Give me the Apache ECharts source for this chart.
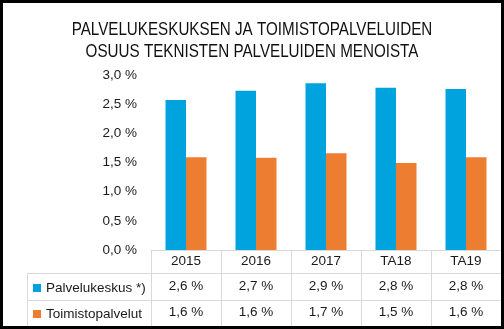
<!DOCTYPE html>
<html>
<head>
<meta charset="utf-8">
<script src="https://cdn.jsdelivr.net/npm/echarts@6/dist/echarts.min.js"></script>
<style>
html,body{margin:0;padding:0;background:#fff;}
#c{width:504px;height:329px;}
</style>
</head>
<body>
<div id="c"></div>
<script>
const titleLines = ['PALVELUKESKUKSEN JA TOIMISTOPALVELUIDEN', 'OSUUS TEKNISTEN PALVELUIDEN MENOISTA'];
const categories = ['2015', '2016', '2017', 'TA18', 'TA19'];
const seriesNames = ['Palvelukeskus *)', 'Toimistopalvelut'];
const palvelukeskus = [2.57, 2.73, 2.86, 2.78, 2.76];
const toimistopalvelut = [1.59, 1.58, 1.66, 1.49, 1.59];
const yTicks = [0, 0.5, 1.0, 1.5, 2.0, 2.5, 3.0];

const fmt = v => v.toFixed(1).replace('.', ',') + ' %';
const font = 'Liberation Sans, Arial, sans-serif';
const txt = '#1a1a1a';
const gridCol = '#d9d9d9';

const chart = echarts.init(document.getElementById('c'), null, {renderer: 'canvas'});
chart.setOption({
  animation: false,
  backgroundColor: '#fff',
  legend: {
    orient: 'vertical',
    left: 33,
    top: 281,
    padding: 0,
    itemGap: 12,
    itemWidth: 8,
    itemHeight: 8,
    icon: 'rect',
    data: seriesNames,
    textStyle: {fontFamily: font, fontSize: 13.5, lineHeight: 14, color: txt}
  },
  grid: {left: 151, right: 3, top: 75, bottom: 79, containLabel: false},
  xAxis: {
    type: 'category',
    data: categories,
    axisLine: {show: true, lineStyle: {color: gridCol, width: 1}},
    axisTick: {show: true, length: 76, lineStyle: {color: gridCol}},
    axisLabel: {
      interval: 0,
      hideOverlap: false,
      margin: 0,
      fontFamily: font,
      fontSize: 13.5,
      color: txt,
      formatter: (v, i) => '{h|' + v + '}\n{a|' + fmt(palvelukeskus[i]) + '}\n{b|' + fmt(toimistopalvelut[i]) + '}',
      rich: {
        h: {fontFamily: font, fontSize: 13.5, color: txt, lineHeight: 23},
        a: {fontFamily: font, fontSize: 13.5, color: txt, lineHeight: 26},
        b: {fontFamily: font, fontSize: 13.5, color: txt, lineHeight: 26}
      }
    }
  },
  yAxis: {
    type: 'value',
    min: 0,
    max: 3,
    interval: 0.5,
    axisLine: {show: false},
    axisTick: {show: false},
    splitLine: {show: false},
    axisLabel: {
      margin: 14,
      fontFamily: font,
      fontSize: 13.5,
      color: txt,
      formatter: v => fmt(v)
    }
  },
  series: [
    {name: seriesNames[0], type: 'bar', data: palvelukeskus, barWidth: 20.5, barGap: '0%', itemStyle: {color: '#00A3DE'}},
    {name: seriesNames[1], type: 'bar', data: toimistopalvelut, barWidth: 20.5, barGap: '0%', itemStyle: {color: '#ED7D31'}}
  ],
  graphic: [
    {type: 'text', x: 252, y: 19, scaleX: 0.8, silent: true,
     style: {text: titleLines.join('\n'), align: 'center', verticalAlign: 'top',
             fontFamily: 'Liberation Sans, Arial, sans-serif', fontSize: 19, lineHeight: 22, fill: '#111'}},
    {type: 'line', shape: {x1: 27, y1: 273.5, x2: 501, y2: 273.5}, style: {stroke: gridCol, lineWidth: 1}, silent: true},
    {type: 'line', shape: {x1: 27, y1: 300.5, x2: 501, y2: 300.5}, style: {stroke: gridCol, lineWidth: 1}, silent: true},
    {type: 'line', shape: {x1: 27.5, y1: 273, x2: 27.5, y2: 326}, style: {stroke: gridCol, lineWidth: 1}, silent: true},
    {type: 'rect', shape: {x: 0, y: 0, width: 504, height: 329}, style: {fill: null, stroke: '#000', lineWidth: 6}, silent: true, z: 100}
  ]
});
</script>
</body>
</html>
